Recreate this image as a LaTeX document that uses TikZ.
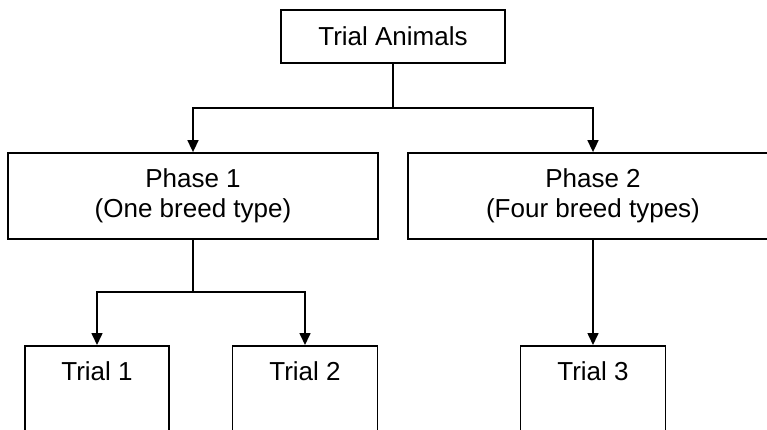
\documentclass[tikz,border=0pt]{standalone}
\usepackage{fontspec}
\setmainfont{Liberation Sans}
\usetikzlibrary{arrows.meta}
\begin{document}
\begin{tikzpicture}[x=1pt,y=-1pt,
  box/.style={draw=black,line width=1.8pt,inner sep=0pt,align=center,
    font=\fontsize{26}{30}\selectfont},
  trialbox/.style={draw=black,line width=1.8pt,anchor=north,inner xsep=0pt,
    inner ysep=16pt,text height=19pt,text depth=90pt,
    font=\fontsize{26}{30}\selectfont},
  conn/.style={line width=1.6pt},
  arr/.style={line width=1.6pt,-{Triangle[length=12pt,width=11pt]}}]
\useasboundingbox (0,0) rectangle (767,429);
\fill[white] (0,0) rectangle (767,429);
\clip (0,0) rectangle (767,429);

\node[box,minimum width=224pt,minimum height=53pt] (top) at (393,36.5) {Trial Animals};
\node[box,minimum width=370pt,minimum height=86pt] (p1) at (193,196) {Phase 1\\(One breed type)};
\node[box,minimum width=370pt,minimum height=86pt] (p2) at (593,196) {Phase 2\\(Four breed types)};

\node[trialbox,minimum width=144pt] (t1) at (97,345) {Trial 1};
\node[trialbox,minimum width=145pt] (t2) at (305,345) {Trial 2};
\node[trialbox,minimum width=145pt] (t3) at (593,345) {Trial 3};

\coordinate (j1) at (393,108);
\coordinate (j2) at (193,292);

\draw[conn] (top.south) -- (j1);
\draw[arr] (j1) -| (p1.north);
\draw[arr] (j1) -| (p2.north);
\draw[conn] (p1.south) -- (j2);
\draw[arr] (j2) -| (t1.north);
\draw[arr] (j2) -| (t2.north);
\draw[arr] (p2.south) -- (t3.north);
\end{tikzpicture}
\end{document}
